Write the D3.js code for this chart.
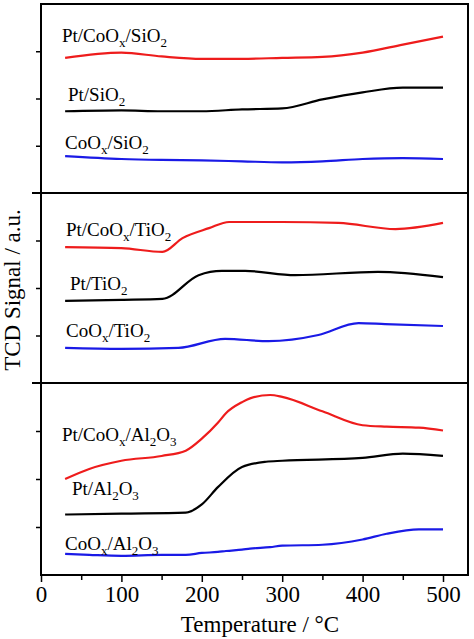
<!DOCTYPE html>
<html><head><meta charset="utf-8">
<script src="https://cdn.jsdelivr.net/npm/d3@7"></script>
<style>body{margin:0;background:#fff}text{font-family:"Liberation Serif","DejaVu Serif",serif}</style>
</head><body><svg id="c" width="474" height="639"></svg>
<script>
const temps = [30, 100, 150, 200, 250, 300, 350, 400, 450, 500];
// signals (a.u.), one panel each
const siRed   = [2.86, 2.97, 2.89, 2.84, 2.84, 2.86, 2.88, 2.97, 3.14, 3.31];
const siBlack = [1.73, 1.75, 1.73, 1.73, 1.77, 1.79, 1.98, 2.13, 2.23, 2.23];
const siBlue  = [0.78, 0.72, 0.70, 0.69, 0.67, 0.65, 0.67, 0.72, 0.74, 0.72];
const tiRedT  = [30, 100, 151, 176, 209, 234, 300, 370, 441, 500];
const tiRed   = [2.86, 2.84, 2.76, 3.05, 3.26, 3.39, 3.39, 3.37, 3.24, 3.37];
const tiBlkT  = [30, 100, 151, 196, 225, 254, 316, 419, 500];
const tiBlack = [1.73, 1.75, 1.77, 2.27, 2.36, 2.36, 2.27, 2.34, 2.23];
const tiBluT  = [30, 100, 171, 229, 283, 345, 395, 428, 500];
const tiBlue  = [0.74, 0.72, 0.74, 0.93, 0.88, 1.01, 1.26, 1.24, 1.20];
const alT     = [30, 60, 100, 150, 180, 200, 220, 230, 250, 260, 285, 300, 350, 400, 430, 470, 500];
const alRed   = [2.00, 2.21, 2.38, 2.48, 2.59, 2.84, 3.17, 3.37, 3.60, 3.68, 3.75, 3.71, 3.41, 3.12, 3.09, 3.07, 3.01];
const alBlkT  = [30, 100, 180, 200, 220, 250, 280, 300, 400, 450, 500];
const alBlack = [1.26, 1.28, 1.30, 1.47, 1.83, 2.25, 2.36, 2.38, 2.44, 2.53, 2.48];
const alBlue  = [0.44, 0.42, 0.40, 0.42, 0.42, 0.46, 0.48, 0.50, 0.53, 0.55, 0.58, 0.61, 0.63, 0.74, 0.86, 0.95, 0.95];

const panels = [
  {top: 4, bottom: 193, series: [
    {t: temps, v: siRed, c: "#ee1c1c", lab: ["Pt/CoO", "x", "/SiO", "2"], lx: 62, ly: 42},
    {t: temps, v: siBlack, c: "#000", lab: ["Pt/SiO", "2"], lx: 68, ly: 101},
    {t: temps, v: siBlue, c: "#1a1ae6", lab: ["CoO", "x", "/SiO", "2"], lx: 65, ly: 149}]},
  {top: 193, bottom: 383, series: [
    {t: tiRedT, v: tiRed, c: "#ee1c1c", lab: ["Pt/CoO", "x", "/TiO", "2"], lx: 66, ly: 236},
    {t: tiBlkT, v: tiBlack, c: "#000", lab: ["Pt/TiO", "2"], lx: 70, ly: 290},
    {t: tiBluT, v: tiBlue, c: "#1a1ae6", lab: ["CoO", "x", "/TiO", "2"], lx: 66, ly: 337}]},
  {top: 383, bottom: 575, series: [
    {t: alT, v: alRed, c: "#ee1c1c", lab: ["Pt/CoO", "x", "/Al", "2", "O", "3"], lx: 62, ly: 441},
    {t: alBlkT, v: alBlack, c: "#000", lab: ["Pt/Al", "2", "O", "3"], lx: 72, ly: 495},
    {t: alT, v: alBlue, c: "#1a1ae6", lab: ["CoO", "x", "/Al", "2", "O", "3"], lx: 65, ly: 550}]}
];

const svg = d3.select("#c");
const L = 41, R = 468;
const x = d3.scaleLinear().domain([0, 500]).range([L, 443]);

panels.forEach(p => {
  const y = d3.scaleLinear().domain([0, 4]).range([p.bottom, p.top]);
  svg.append("g").attr("transform", `translate(${L},0)`)
    .call(d3.axisLeft(y).tickValues([1, 2, 3]).tickSize(5).tickFormat(""))
    .call(g => g.select(".domain").remove())
    .selectAll("line").attr("stroke-width", 1.5);
  p.series.forEach(s => {
    const line = d3.line().x((d, i) => x(s.t[i])).y(d => y(d)).curve(d3.curveMonotoneX);
    svg.append("path").attr("d", line(s.v)).attr("fill", "none")
      .attr("stroke", s.c).attr("stroke-width", 2.2);
    const t = svg.append("text").attr("x", s.lx).attr("y", s.ly).attr("font-size", 19);
    s.lab.forEach((part, i) => {
      const sub = i % 2 === 1;
      t.append("tspan").text(part).attr("font-size", sub ? 13 : 19)
        .attr("dy", sub ? 5 : (i > 0 ? -5 : 0));
    });
  });
});

// frame
svg.append("rect").attr("x", L).attr("y", 4).attr("width", R - L).attr("height", 571)
  .attr("fill", "none").attr("stroke", "#000").attr("stroke-width", 2);
[193, 383].forEach(v => svg.append("line").attr("x1", 32).attr("x2", R).attr("y1", v).attr("y2", v)
  .attr("stroke", "#000").attr("stroke-width", 2));

const xa = svg.append("g").attr("transform", "translate(0,575)")
  .call(d3.axisBottom(x).tickValues([0, 100, 200, 300, 400, 500]).tickSize(7).tickPadding(4));
xa.select(".domain").remove();
xa.selectAll("line").attr("stroke-width", 1.5);
xa.selectAll("text").attr("font-size", 23);
svg.append("g").attr("transform", "translate(0,575)")
  .call(d3.axisBottom(x).tickValues([50, 150, 250, 350, 450]).tickSize(5).tickFormat(""))
  .call(g => g.select(".domain").remove())
  .selectAll("line").attr("stroke-width", 1.5);

svg.append("text").attr("x", 260).attr("y", 632).attr("text-anchor", "middle")
  .attr("font-size", 23).text("Temperature / °C");
svg.append("text").attr("transform", "translate(20,290) rotate(-90)").attr("text-anchor", "middle")
  .attr("font-size", 23).text("TCD Signal / a.u.");
</script></body></html>
